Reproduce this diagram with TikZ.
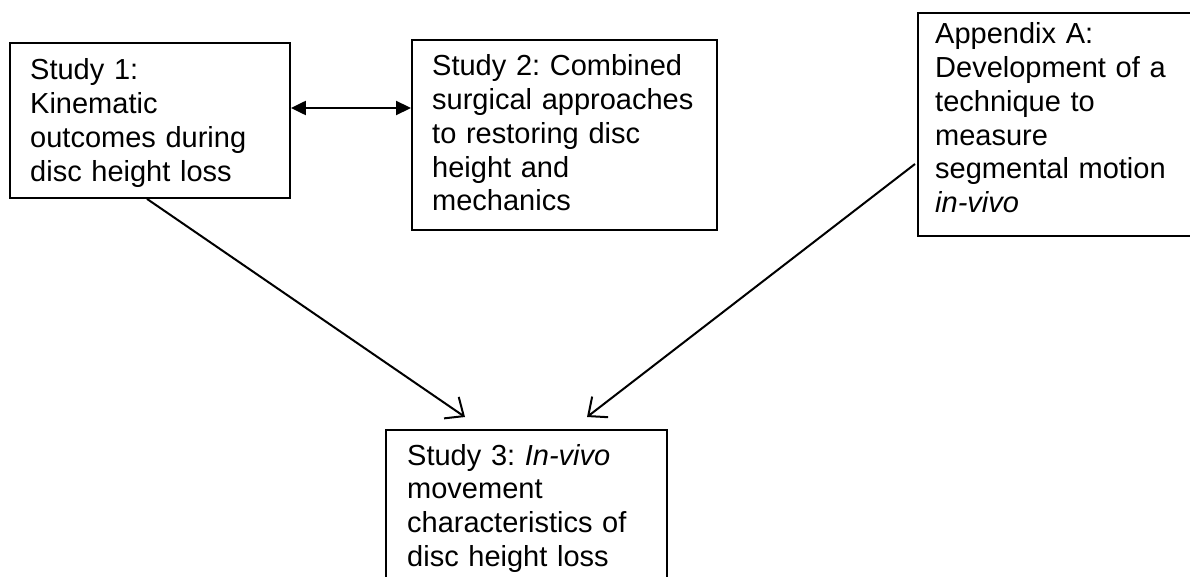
\documentclass[tikz,border=0pt]{standalone}
\usepackage{fontspec}
\setmainfont{Liberation Sans}
\usetikzlibrary{arrows.meta,calc}
\frenchspacing
\begin{document}
\begin{tikzpicture}[x=1pt,y=1pt,
  boxnode/.style={draw=black,line width=1.9pt,rectangle,inner sep=0pt,anchor=north west},
  txt/.style={inner sep=0pt,anchor=base west,text width=320pt,align=left,font=\fontsize{29}{33.7}\selectfont},
  openarrow/.style={line width=2pt,-{Straight Barb[length=15pt,width=26pt,line width=2pt]}},
  dblarrow/.style={line width=2.2pt,{Triangle[length=15pt,width=14pt]}-{Triangle[length=15pt,width=14pt]}}
]
\clip (0,0) rectangle (1190,-577);
\fill[white] (0,0) rectangle (1190,-577);
% boxes
\node[boxnode,minimum width=280pt,minimum height=155pt] (s1) at (9,-42) {};
\node[boxnode,minimum width=305pt,minimum height=190pt] (s2) at (411,-39) {};
\node[boxnode,minimum width=290pt,minimum height=223pt] (sa) at (917,-12) {};
\node[boxnode,minimum width=281pt,minimum height=180pt] (s3) at (385,-429) {};
% texts
\node[txt] (t1) at (30,-80) {Study 1:\\Kinematic\\outcomes during\\disc height loss};
\node[txt] (t2) at (432,-76) {Study 2: Combined\\surgical approaches\\to restoring disc\\height and\\mechanics};
\node[txt] (ta) at (935,-44) {Appendix A:\\Development of a\\technique to\\measure\\segmental motion\\\textit{in-vivo}};
\node[txt] (t3) at (407,-465) {Study 3: \textit{In-vivo}\\movement\\characteristics of\\disc height loss};
% connectors
\draw[dblarrow] ([yshift=-66pt]s1.north east) -- ([yshift=-69pt]s2.north west);
\draw[openarrow] ([xshift=138pt]s1.south west) -- ([xshift=80pt,yshift=12pt]s3.north west);
\draw[openarrow] ([xshift=-2pt,yshift=-152pt]sa.north west) -- ([xshift=202pt,yshift=12pt]s3.north west);
\end{tikzpicture}
\end{document}
